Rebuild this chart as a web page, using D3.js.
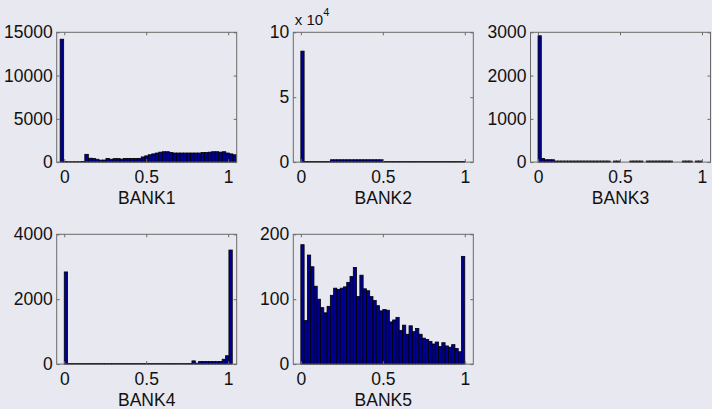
<!DOCTYPE html>
<html>
<head>
<meta charset="utf-8">
<script src="https://cdn.jsdelivr.net/npm/d3@7"></script>
<style>
  html, body { margin: 0; padding: 0; background: #e8e8f0; }
  svg { display: block; }
</style>
</head>
<body>
<div id="chart"></div>
<script>
// histogram counts, 50 bins per bank
const bank1Counts = [14200, 60, 50, 50, 50, 50, 60, 900, 450, 430,
  330, 230, 240, 420, 330, 400, 400, 350, 420, 420,
  420, 420, 430, 600, 720, 850, 950, 1050, 1150, 1200,
  1200, 1100, 1050, 1050, 1050, 1050, 1050, 1050, 1050, 1050,
  1100, 1100, 1150, 1200, 1200, 1150, 1200, 1050, 950, 850];
const bank2Counts = [85500, 400, 400, 400, 400, 400, 400, 400, 400, 1800,
  1800, 1800, 1800, 1800, 1800, 1800, 1800, 1800, 1800, 1800,
  1800, 1800, 1800, 1800, 1800, 400, 400, 400, 400, 400,
  400, 400, 400, 400, 400, 400, 400, 400, 400, 400,
  400, 400, 400, 400, 400, 400, 400, 400, 400, 400];
const bank3Counts = [2920, 85, 55, 55, 55, 25, 25, 25, 25, 25,
  25, 25, 25, 25, 25, 25, 25, 25, 25, 25,
  25, 25, 0, 25, 25, 0, 0, 0, 25, 25,
  25, 25, 0, 25, 25, 25, 25, 25, 25, 25,
  25, 0, 0, 0, 25, 25, 25, 0, 25, 25];
const bank4Counts = [2840, 20, 20, 20, 20, 20, 20, 20, 20, 20,
  20, 20, 20, 20, 20, 20, 20, 20, 20, 20,
  20, 20, 20, 20, 20, 20, 20, 20, 20, 20,
  20, 20, 20, 20, 20, 20, 20, 20, 100, 30,
  80, 80, 80, 80, 80, 80, 80, 150, 257, 3515];
const bank5Counts = [184, 67, 168, 150, 120, 100, 87, 79, 89, 106,
  117, 115, 117, 119, 126, 135, 149, 104, 137, 116,
  113, 104, 98, 90, 82, 84, 83, 65, 68, 72,
  52, 60, 46, 59, 50, 55, 46, 40, 38, 35,
  31, 34, 27, 33, 28, 26, 30, 24, 19, 166];

// bin ranges (lowest edge, highest edge)
const bank1Range = [-0.025, 1.05];
const bank2Range = [0, 1];
const bank3Range = [0, 1];
const bank4Range = [0, 1.025];
const bank5Range = [0, 1];

const bankNames = ["BANK1", "BANK2", "BANK3", "BANK4", "BANK5"];
const xTicks = [0, 0.5, 1];
const yMaxes = [15000, 100000, 3000, 4000, 200];
const yTickLists = [
  [0, 5000, 10000, 15000],
  [0, 50000, 100000],
  [0, 1000, 2000, 3000],
  [0, 2000, 4000],
  [0, 100, 200]
];

const width = 712;
const height = 409;
const fontSize = 17.5;

const svg = d3.select("#chart")
  .append("svg")
  .attr("width", width)
  .attr("height", height)
  .style("background", "#e8e8f0")
  .style("font-family", "'Liberation Sans', Arial, Helvetica, sans-serif");

const colLefts = [56.7, 293.3, 530.5];
const boxW = 180;
const rowTops = [32.3, 234.3];
const boxH = 129.8;

const panels = [
  { counts: bank1Counts, range: bank1Range, col: 0, row: 0 },
  { counts: bank2Counts, range: bank2Range, col: 1, row: 0, scale10: 4 },
  { counts: bank3Counts, range: bank3Range, col: 2, row: 0 },
  { counts: bank4Counts, range: bank4Range, col: 0, row: 1 },
  { counts: bank5Counts, range: bank5Range, col: 1, row: 1 }
];

panels.forEach((p, i) => {
  const left = colLefts[p.col];
  const top = rowTops[p.row];

  const g = svg.append("g")
    .attr("transform", `translate(${left},${top})`);

  const x = d3.scaleLinear()
    .domain([-0.046, 1.052])
    .range([0, boxW]);

  const y = d3.scaleLinear()
    .domain([0, yMaxes[i]])
    .range([boxH, 0]);

  const n = p.counts.length;
  const binW = (p.range[1] - p.range[0]) / n;

  // bars
  g.selectAll("rect.bar")
    .data(p.counts.map((c, k) => ({ c, x0: p.range[0] + k * binW, x1: p.range[0] + (k + 1) * binW })))
    .join("rect")
    .filter(d => d.c > 0)
    .attr("class", "bar")
    .attr("x", d => x(d.x0))
    .attr("width", d => x(d.x1) - x(d.x0))
    .attr("y", d => y(d.c))
    .attr("height", d => boxH - y(d.c))
    .attr("fill", "#000090")
    .attr("stroke", "#000")
    .attr("stroke-width", 0.8);

  // box
  g.append("rect")
    .attr("width", boxW)
    .attr("height", boxH)
    .attr("fill", "none")
    .attr("stroke", "#6a6a6a")
    .attr("stroke-width", 1);

  const fmtY = p.scale10 ? (d => d / Math.pow(10, p.scale10)) : (d => d);

  // axes, ticks pointing inward
  g.append("g")
    .attr("transform", `translate(0,${boxH})`)
    .call(d3.axisBottom(x).tickValues(xTicks).tickSizeInner(-3).tickSizeOuter(0)
      .tickPadding(8.5).tickFormat(d => d));

  g.append("g")
    .call(d3.axisLeft(y).tickValues(yTickLists[i]).tickSizeInner(-3).tickSizeOuter(0)
      .tickPadding(4).tickFormat(fmtY));

  g.append("g")
    .call(d3.axisTop(x).tickValues(xTicks).tickSizeInner(-3).tickSizeOuter(0).tickFormat(""));

  g.append("g")
    .attr("transform", `translate(${boxW},0)`)
    .call(d3.axisRight(y).tickValues(yTickLists[i]).tickSizeInner(-3).tickSizeOuter(0).tickFormat(""));

  g.selectAll(".domain").remove();
  g.selectAll(".tick line").attr("stroke", "#6a6a6a");
  g.selectAll(".tick text")
    .attr("fill", "#111")
    .style("font-size", fontSize + "px")
    .style("font-family", "'Liberation Sans', Arial, Helvetica, sans-serif");

  // x label
  g.append("text")
    .attr("x", boxW / 2)
    .attr("y", boxH + 42)
    .attr("text-anchor", "middle")
    .style("font-size", fontSize + "px")
    .attr("fill", "#111")
    .text(bankNames[i]);

  // exponent label
  if (p.scale10) {
    const t = g.append("text")
      .attr("x", 1.5)
      .attr("y", -7.5)
      .style("font-size", "15px")
      .attr("fill", "#111");
    t.append("tspan").text("x 10");
    t.append("tspan")
      .attr("dy", -9)
      .style("font-size", "11px")
      .text(p.scale10);
  }
});
</script>
</body>
</html>
